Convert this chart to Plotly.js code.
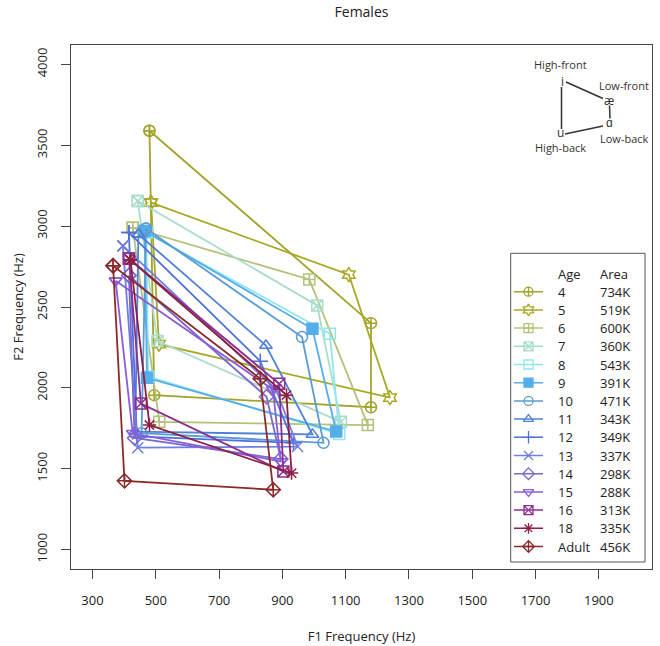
<!DOCTYPE html>
<html><head><meta charset="utf-8">
<script src="https://cdn.plot.ly/plotly-3.0.1.min.js"></script>
<style>html,body{margin:0;padding:0;background:#fff}#chart{width:660px;height:646px}</style>
</head><body><div id="chart"></div>
<script>
// Ages and vowel-space areas
const ages  = ['4','5','6','7','8','9','10','11','12','13','14','15','16','18','Adult'];
const areas = ['734K','519K','600K','360K','543K','391K','471K','343K','349K','337K','298K','288K','313K','335K','456K'];
// Vowel formants (Hz): i (high-front), ae (low-front), a (low-back), u (high-back)
const f1_i  = [480, 485, 427, 443, 470, 465, 469, 445, 415, 396, 415, 373, 415, 420, 365];
const f2_i  = [3590,3145,2990,3155,2960,2970,2985,2950,2960,2878,2695,2662,2800,2790,2755];
const f1_ae = [1180,1110,985, 1010,1050,995, 962, 848, 830, 880, 850, 870, 890, 913, 830];
const f2_ae = [2400,2700,2670,2510,2335,2365,2314,2262,2165,1990,1945,1990,2025,1955,2057];
const f1_a  = [1180,1240,1170,1085,1080,1070,1030,995, 935, 948, 895, 895, 903, 929, 871];
const f2_a  = [1880,1940,1770,1790,1715,1730,1660,1712,1660,1637,1560,1545,1483,1473,1370];
const f1_u  = [495, 510, 511, 505, 476, 472, 455, 435, 440, 443, 433, 427, 453, 480, 401];
const f2_u  = [1955,2270,1790,2290,2070,2062,1720,1730,1700,1630,1690,1719,1903,1770,1425];
const xTicks = [300,500,700,900,1100,1300,1500,1700,1900];
const yTicks = [1000,1500,2000,2500,3000,3500,4000];

const colors  = ['#A3A32B','#A8A825','#B3C27A','#A9DDCB','#8EE7EE','#55AEEA','#5B9BD5','#4F82D6','#4F6FDB','#6F7EE0','#7B68D0','#8A5CD8','#8B2F8F','#8E1F3F','#8B2A2A'];
const symbols = ['circle-cross-open','hexagram-open','square-cross-open','square-x-open','square-open','square','circle-open','triangle-up-open','cross-thin-open','x-thin-open','diamond-open','triangle-down-open','square-x-open','asterisk-open','diamond-cross-open'];

const traces = ages.map((a,k)=>({
  type:'scatter', mode:'lines+markers', name:a, showlegend:false,
  x:[f1_i[k], f1_ae[k], f1_a[k], f1_u[k], f1_i[k]],
  y:[f2_i[k], f2_ae[k], f2_a[k], f2_u[k], f2_i[k]],
  line:{color:colors[k], width:1.8},
  marker:{symbol:symbols[k], size:11, color:colors[k], line:{color:colors[k], width:1.5}},
  hoverinfo:'skip'
}));

// legend keys on a small overlay axis: one row per age (row index = position in ages)
const legendKeys = ages.map((a,k)=>({
  type:'scatter', mode:'lines+markers', showlegend:false, xaxis:'x2', yaxis:'y2',
  x:[0,0.5,1], y:[k,k,k],
  line:{color:colors[k], width:1.5},
  marker:{symbol:symbols[k], size:[0,9,0], opacity:[0,1,0], color:colors[k], line:{color:colors[k], width:1.3}},
  hoverinfo:'skip'
}));

// plot area in px
const L=71, R=652, T=45, B=569;
const px2x = p => (p-L)/(R-L);
const py2y = p => (B-p)/(B-T);
const row0 = 291.7, rowH = 18.2;

const font = {family:'Open Sans, sans-serif', size:13, color:'#222'};
const insetFont = {family:'Open Sans, sans-serif', size:11, color:'#333'};
const ann = [
  ['High-front',560,65],['i',562,82],['Low-front',624,85],['æ',608.5,101],
  ['ɑ',609.5,122.5],['Low-back',624,138],['u',560,132],['High-back',560,147.5]
].map(([t,x,y])=>({text:t,x:px2x(x),y:py2y(y),xref:'paper',yref:'paper',showarrow:false,
  xanchor:'center',yanchor:'middle',font:(t.length<3?Object.assign({},insetFont,{size:12}):insetFont)}));

// legend text
ann.push({text:'Age', x:px2x(556), y:-1, xref:'paper', yref:'y2', showarrow:false, xanchor:'left', yanchor:'middle', font:font});
ann.push({text:'Area', x:px2x(598), y:-1, xref:'paper', yref:'y2', showarrow:false, xanchor:'left', yanchor:'middle', font:font});
ages.forEach((a,k)=>{
  ann.push({text:a, x:px2x(556), y:k, xref:'paper', yref:'y2', showarrow:false, xanchor:'left', yanchor:'middle', font:font});
  ann.push({text:areas[k], x:px2x(598), y:k, xref:'paper', yref:'y2', showarrow:false, xanchor:'left', yanchor:'middle', font:font});
});

const seg = (x0,y0,x1,y1)=>({type:'line',xref:'paper',yref:'paper',x0:px2x(x0),y0:py2y(y0),x1:px2x(x1),y1:py2y(y1),line:{color:'#333',width:1.5}});
const shapes = [
  seg(566,82,603,98.5), seg(609.5,105.5,610,118.5), seg(603,126,565,134), seg(561.5,87,561.5,129),
  {type:'rect',xref:'paper',yref:'paper',x0:px2x(510.7),x1:px2x(645),y0:py2y(562),y1:py2y(253.3),line:{color:'#555',width:1},fillcolor:'rgba(0,0,0,0)',layer:'above'}
];

const layout = {
  width:660, height:646,
  margin:{l:L, r:660-R, t:T, b:646-B},
  paper_bgcolor:'#fff', plot_bgcolor:'#fff',
  font:font, showlegend:false,
  title:{text:'Females', font:{family:'Open Sans, sans-serif', size:14, color:'#222'}, x:0.5, xref:'paper', y:1-12/646, yref:'container', yanchor:'middle'},
  xaxis:{range:[232,2068], tickvals:xTicks, ticktext:xTicks.map(String), ticks:'outside', ticklen:9, tickcolor:'#444',
    showline:true, mirror:true, linecolor:'#444', linewidth:1, showgrid:false, zeroline:false,
    ticklabelstandoff:10, title:{text:'F1 Frequency (Hz)', font:font, standoff:24}},
  yaxis:{range:[880,4120], tickvals:yTicks, ticktext:yTicks.map(String), ticks:'outside', ticklen:9, tickcolor:'#444', tickangle:-90,
    showline:true, mirror:true, linecolor:'#444', linewidth:1, showgrid:false, zeroline:false,
    ticklabelstandoff:9, title:{text:'F2 Frequency (Hz)', font:font, standoff:6}},
  xaxis2:{domain:[px2x(514), px2x(543)], range:[0,1], visible:false, anchor:'y2', showgrid:false, zeroline:false},
  yaxis2:{domain:[py2y(row0+14.5*rowH), py2y(row0-1.5*rowH)], range:[14.5,-1.5], visible:false, anchor:'x2', showgrid:false, zeroline:false},
  annotations:ann, shapes:shapes
};

Plotly.newPlot('chart', traces.concat(legendKeys), layout, {staticPlot:true});
</script>
</body></html>
